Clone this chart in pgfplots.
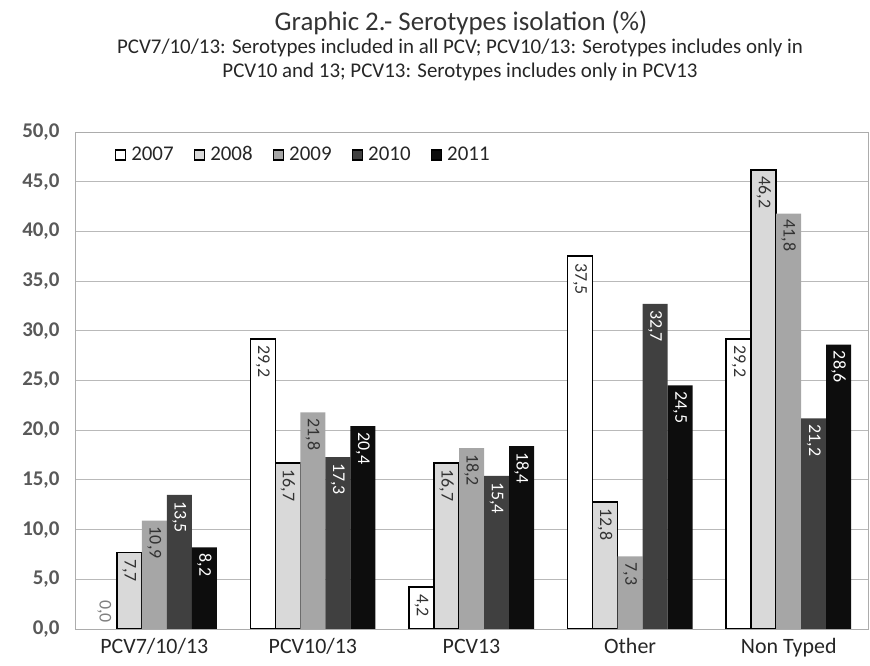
\documentclass[border=0pt]{standalone}
\usepackage{pgfplots}
\pgfplotsset{compat=1.18}
\usepackage{fontspec}
\setmainfont{Carlito}

\definecolor{c08}{HTML}{D9D9D9}
\definecolor{c09}{HTML}{A6A6A6}
\definecolor{c10}{HTML}{404040}
\definecolor{c11}{HTML}{0D0D0D}
\definecolor{txt}{HTML}{333333}

\begin{document}
\begin{tikzpicture}
\path[use as bounding box] (0,0) rectangle (870bp,666bp);
\node[font=\fontsize{27}{30}\selectfont, text=txt] at (461bp,643bp) {Graphic 2.- Serotypes isolation (\%)};
\node[font=\fontsize{21}{24}\selectfont, align=center, text=black!85] at (460bp,606bp)
  {PCV7/10/13: Serotypes included in all PCV; PCV10/13: Serotypes includes only in\\
   PCV10 and 13; PCV13: Serotypes includes only in PCV13};

\begin{axis}[
  at={(75bp,37bp)}, anchor=south west,
  scale only axis, width=793bp, height=497bp,
  ymin=0, ymax=50, ytick={0,5,10,15,20,25,30,35,40,45,50},
  xmin=-0.5, xmax=4.5, xtick={0,1,2,3,4},
  xticklabels={PCV7/10/13,PCV10/13,PCV13,Other,Non Typed},
  ybar=0pt, bar width=25bp,
  ymajorgrids, grid style={gray!55, line width=0.9pt},
  axis line style={gray!65, line width=0.9pt},
  major tick length=0pt,
  yticklabel style={font=\fontsize{21}{24}\selectfont\bfseries, text=black!65, xshift=-12bp,
    /pgf/number format/.cd, fixed, fixed zerofill, precision=1, use comma, assume math mode=true, /tikz/.cd},
  xticklabel style={font=\fontsize{22}{24}\selectfont, text=black!85, text height=15bp, text depth=4bp, yshift=-6bp},
  legend columns=-1,
  legend style={draw=none, fill=none, at={(0.046,0.954)}, anchor=west,
    font=\fontsize{21}{24}\selectfont, text=black!85,
    nodes={text height=14bp, text depth=2bp},
    /tikz/every odd column/.append style={column sep=3bp},
    /tikz/every even column/.append style={column sep=18bp}},
  legend image code/.code={\draw[#1, line width=1.6pt] (0bp,-5bp) rectangle (10bp,5bp);},
  nodes near coords,
  every node near coord/.append style={rotate=-90, anchor=west, inner xsep=6bp,
    font=\fontsize{18}{20}\selectfont, text=txt,
    /pgf/number format/.cd, fixed, fixed zerofill, precision=1, use comma, assume math mode=true, /tikz/.cd},
]
\addplot[fill=white, draw=black, line width=1.6pt, bar shift=-50bp]
  coordinates {(1,29.2) (2,4.2) (3,37.5) (4,29.2)};
\addlegendentry{2007}
\addplot[fill=c08, draw=black, line width=1.6pt, bar shift=-25bp]
  coordinates {(0,7.7) (1,16.7) (2,16.7) (3,12.8) (4,46.2)};
\addlegendentry{2008}
\addplot[fill=c09, draw=none, bar shift=0bp]
  coordinates {(0,10.9) (1,21.8) (2,18.2) (3,7.3) (4,41.8)};
\addlegendentry{2009}
\addplot[fill=c10, draw=none, bar shift=25bp, every node near coord/.append style={text=white}]
  coordinates {(0,13.5) (1,17.3) (2,15.4) (3,32.7) (4,21.2)};
\addlegendentry{2010}
\addplot[fill=c11, draw=none, bar shift=50bp, every node near coord/.append style={text=white}]
  coordinates {(0,8.2) (1,20.4) (2,18.4) (3,24.5) (4,28.6)};
\addlegendentry{2011}
% zero value of 2007, label sits above the baseline
\addplot[draw=none, fill=none, bar shift=-50bp, forget plot,
  every node near coord/.append style={anchor=east, text=gray}]
  coordinates {(0,0)};
\end{axis}
\end{tikzpicture}
\end{document}
